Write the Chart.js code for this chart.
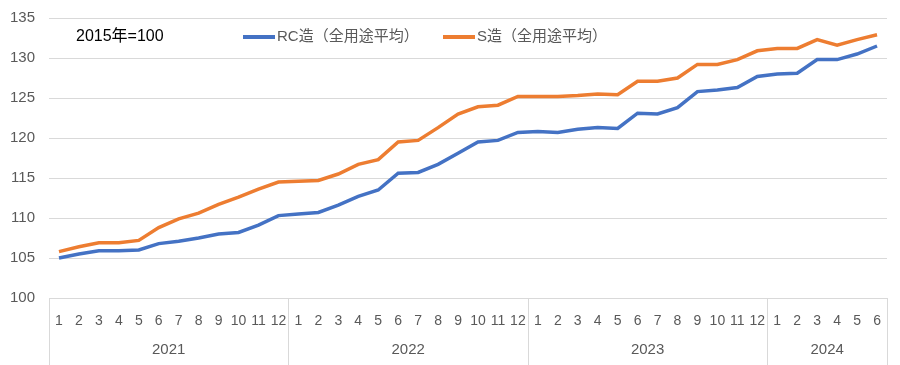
<!DOCTYPE html>
<html>
<head>
<meta charset="utf-8">
<script src="https://cdn.jsdelivr.net/npm/chart.js@4.4.0/dist/chart.umd.min.js"></script>
<style>
  html, body { margin: 0; padding: 0; background: #ffffff; }
  #wrap { width: 900px; height: 365px; }
</style>
</head>
<body>
<div id="wrap"><canvas id="costChart" width="900" height="365"></canvas></div>
<script>
// month labels (2021/1 - 2024/6)
const months = [
    "1","2","3","4","5","6","7","8","9","10","11","12",
    "1","2","3","4","5","6","7","8","9","10","11","12",
    "1","2","3","4","5","6","7","8","9","10","11","12",
    "1","2","3","4","5","6"
];
// year groups under the months
const years = ["2021", "2022", "2023", "2024"];
const monthsPerYear = [12, 12, 12, 6];

const rcLabel = "RC造（全用途平均）";
const sLabel = "S造（全用途平均）";
const baseNote = "2015年=100";

const rcValues = [
    105.0, 105.5, 105.9, 105.9, 106.0, 106.8, 107.1, 107.5, 108.0, 108.2, 109.1, 110.3,
    110.5, 110.7, 111.6, 112.7, 113.5, 115.6, 115.7, 116.7, 118.1, 119.5, 119.7, 120.7,
    120.8, 120.7, 121.1, 121.3, 121.2, 123.1, 123.0, 123.8, 125.8, 126.0, 126.3, 127.7,
    128.0, 128.1, 129.8, 129.8, 130.5, 131.5
];
const sValues = [
    105.8, 106.4, 106.9, 106.9, 107.2, 108.8, 109.9, 110.6, 111.7, 112.6, 113.6, 114.5,
    114.6, 114.7, 115.5, 116.7, 117.3, 119.5, 119.7, 121.3, 123.0, 123.9, 124.1, 125.2,
    125.2, 125.2, 125.3, 125.5, 125.4, 127.1, 127.1, 127.5, 129.2, 129.2, 129.8, 130.9,
    131.2, 131.2, 132.3, 131.6, 132.3, 132.9
];

const gridColor = "#d9d9d9";
const textColor = "#595959";
const cjkFont = "'Liberation Sans', 'Noto Sans CJK JP', sans-serif";

// draws the year row, the group separators, the legend and the base note
const extrasPlugin = {
    id: "extras",
    afterDraw(chart) {
        const ctx = chart.ctx;
        const xScale = chart.scales.x;
        const area = chart.chartArea;
        const half = (xScale.getPixelForValue(1) - xScale.getPixelForValue(0)) / 2;

        ctx.save();
        // separators and year names
        ctx.strokeStyle = gridColor;
        ctx.lineWidth = 1;
        let start = 0;
        for (let i = 0; i <= years.length; i++) {
            const xPos = Math.round(xScale.getPixelForValue(start) - half) + 0.5;
            ctx.beginPath();
            ctx.moveTo(xPos, area.bottom);
            ctx.lineTo(xPos, chart.height);
            ctx.stroke();
            if (i < years.length) {
                const end = start + monthsPerYear[i] - 1;
                const mid = (xScale.getPixelForValue(start) + xScale.getPixelForValue(end)) / 2;
                ctx.fillStyle = textColor;
                ctx.font = "15px 'Liberation Sans Narrow', 'Liberation Sans', sans-serif";
                ctx.textAlign = "center";
                ctx.textBaseline = "middle";
                ctx.fillText(years[i], mid, 350);
                start += monthsPerYear[i];
            }
        }

        // legend
        const items = [
            { x: 243, ds: chart.data.datasets[0] },
            { x: 443, ds: chart.data.datasets[1] }
        ];
        items.forEach(item => {
            ctx.strokeStyle = item.ds.borderColor;
            ctx.lineWidth = 4;
            ctx.beginPath();
            ctx.moveTo(item.x, 37);
            ctx.lineTo(item.x + 32, 37);
            ctx.stroke();
            ctx.fillStyle = textColor;
            ctx.font = "15px " + cjkFont;
            ctx.textAlign = "left";
            ctx.textBaseline = "middle";
            ctx.fillText(item.ds.label, item.x + 34, 37);
        });

        // base year note
        ctx.fillStyle = "#000000";
        ctx.font = "16px " + cjkFont;
        ctx.textAlign = "left";
        ctx.textBaseline = "middle";
        ctx.fillText(baseNote, 76, 37);
        ctx.restore();
    }
};

const ctx = document.getElementById("costChart").getContext("2d");
const costChart = new Chart(ctx, {
    type: "line",
    data: {
        labels: months,
        datasets: [
            {
                label: rcLabel,
                data: rcValues,
                borderColor: "#4472c4",
                backgroundColor: "#4472c4",
                borderWidth: 3.5,
                pointRadius: 0,
                tension: 0
            },
            {
                label: sLabel,
                data: sValues,
                borderColor: "#ed7d31",
                backgroundColor: "#ed7d31",
                borderWidth: 3.5,
                pointRadius: 0,
                tension: 0
            }
        ]
    },
    options: {
        responsive: false,
        animation: false,
        layout: {
            padding: { top: 18, right: 13, bottom: 0, left: 0 }
        },
        plugins: {
            legend: { display: false },
            tooltip: { enabled: false }
        },
        scales: {
            x: {
                offset: true,
                grid: { display: false, drawTicks: false },
                border: { display: false },
                ticks: {
                    autoSkip: false,
                    maxRotation: 0,
                    padding: 15,
                    color: textColor,
                    font: { size: 14, family: "'Liberation Sans Narrow', 'Liberation Sans', sans-serif" }
                },
                afterFit(scale) {
                    scale.height = 67;
                }
            },
            y: {
                min: 100,
                max: 135,
                ticks: {
                    stepSize: 5,
                    padding: 14,
                    color: textColor,
                    font: { size: 15, family: "'Liberation Sans', sans-serif" }
                },
                grid: { color: gridColor, drawTicks: false },
                border: { display: false },
                afterFit(scale) {
                    scale.width = 49;
                    scale.paddingTop = 0;
                }
            }
        }
    },
    plugins: [extrasPlugin]
});
</script>
</body>
</html>
